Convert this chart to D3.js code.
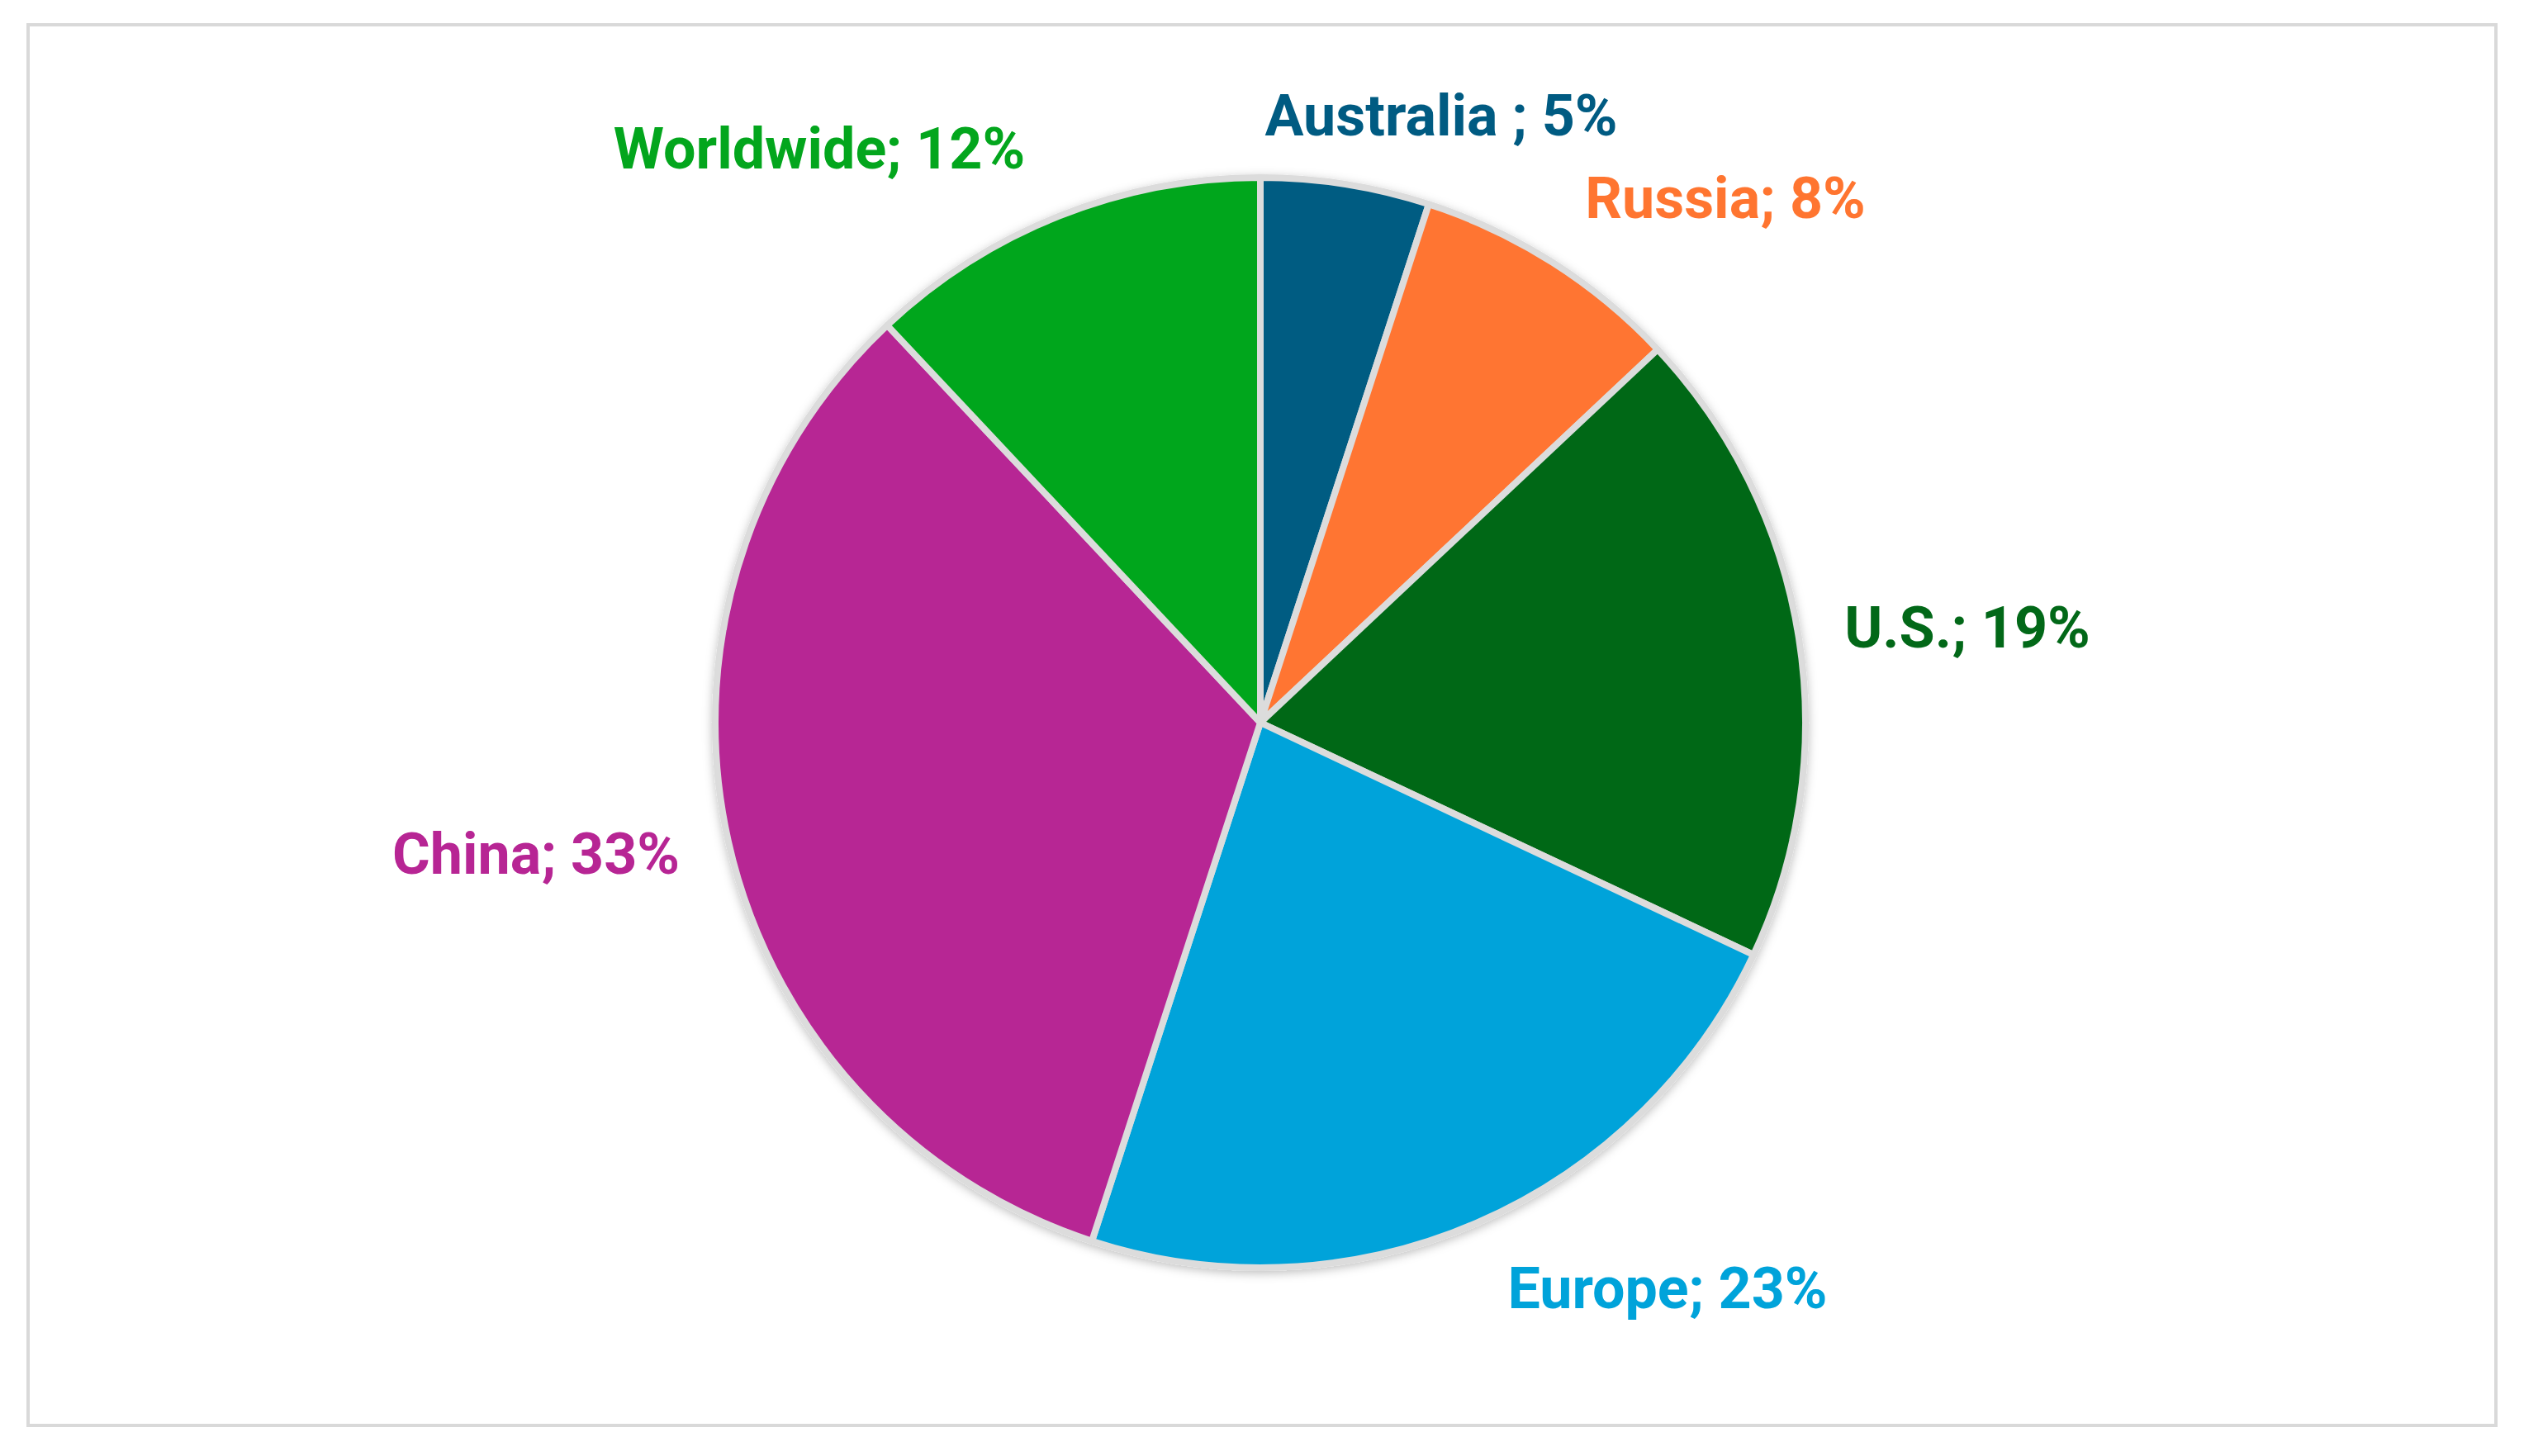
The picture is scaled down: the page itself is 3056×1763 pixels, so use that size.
<!DOCTYPE html>
<html><head><meta charset="utf-8">
<script src="https://cdn.jsdelivr.net/npm/d3@7"></script>
<style>body{margin:0;background:#fff}</style>
</head><body><div id="chart"></div>
<script>
const categories = ["Australia ", "Russia", "U.S.", "Europe", "China", "Worldwide"];
const shares = [5, 8, 19, 23, 33, 12];
const colors = ["#005b82", "#ff7530", "#026818", "#00a3da", "#b72594", "#03a61d"];
// label anchor positions (layout only)
const labelXY = [[1745,140],[2089,240],[2382,760],[2019,1560],[649,1034],[992,180]];

const width = 3056, height = 1763;
const cx = 1526, cy = 875, radius = 660;

const svg = d3.select("#chart").append("svg")
    .attr("width", width).attr("height", height);

svg.append("rect")
    .attr("x", 34).attr("y", 30).attr("width", 2988).attr("height", 1696)
    .attr("fill", "#fff").attr("stroke", "#d9d9d9").attr("stroke-width", 4);

const defs = svg.append("defs");
const f = defs.append("filter").attr("id", "sh").attr("x", "-10%").attr("y", "-10%").attr("width", "120%").attr("height", "120%");
f.append("feDropShadow").attr("dx", 0).attr("dy", 3).attr("stdDeviation", 6).attr("flood-color", "#000").attr("flood-opacity", 0.25);

const data = categories.map((c, i) => ({cat: c, v: shares[i], color: colors[i], pos: labelXY[i]}));
const pie = d3.pie().value(d => d.v).sort(null);
const arc = d3.arc().innerRadius(0).outerRadius(radius);

svg.append("g")
    .attr("transform", "translate(" + cx + "," + cy + ")")
    .attr("filter", "url(#sh)")
    .selectAll("path")
    .data(pie(data))
    .join("path")
    .attr("d", arc)
    .attr("fill", d => d.data.color)
    .attr("stroke", "#dcdcdc")
    .attr("stroke-width", 8)
    .attr("stroke-linejoin", "round");

svg.append("g")
    .attr("font-family", "Roboto, sans-serif")
    .attr("font-weight", "bold")
    .attr("font-size", 70)
    .selectAll("text")
    .data(data)
    .join("text")
    .attr("x", d => d.pos[0]).attr("y", d => d.pos[1])
    .attr("text-anchor", "middle")
    .attr("dominant-baseline", "central")
    .attr("fill", d => d.color)
    .text(d => d.cat + "; " + d.v + "%");
</script></body></html>
